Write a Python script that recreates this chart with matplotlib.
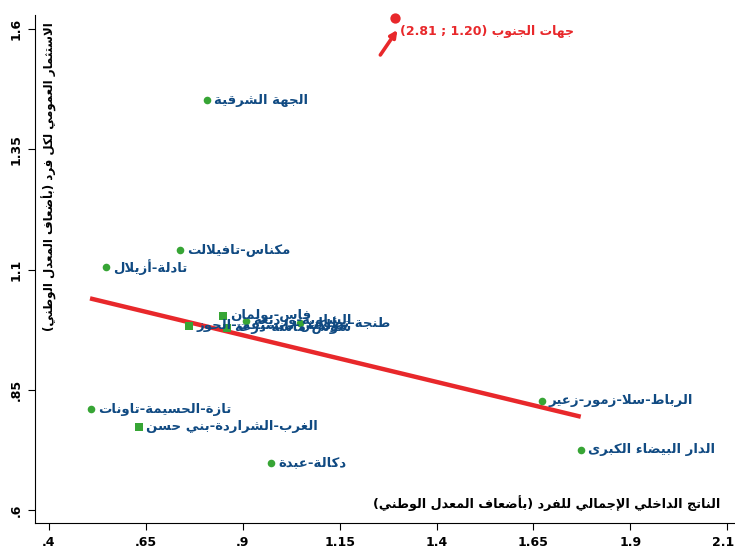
#!/usr/bin/env python3

# Scatter of regional indicators vs GDP per capita (multiples of the national mean),
# with Arabic labels shaped by hand (matplotlib does no Arabic shaping itself).

import matplotlib
matplotlib.use('Agg')
import matplotlib.pyplot as plt

# Data.
regions = [
    'الجهة الشرقية', 'مكناس-تافيلالت', 'تادلة-أزيلال', 'فاس-بولمان',
    'الشاوية-ورديغة', 'مراكش-تانسيفت-الحوز', 'سوس-ماسة-درعة', 'طنجة-تطوان',
    'تازة-الحسيمة-تاونات', 'الغرب-الشراردة-بني حسن', 'دكالة-عبدة',
    'الرباط-سلا-زمور-زعير', 'الدار البيضاء الكبرى',
]
gdp_pc = [0.808, 0.738, 0.547, 0.850, 0.909, 0.762, 0.860, 1.049,
          0.509, 0.633, 0.974, 1.671, 1.772]
y_val = [1.452, 1.140, 1.106, 1.004, 0.994, 0.983, 0.979, 0.988,
         0.810, 0.773, 0.698, 0.827, 0.725]

south_name = 'جهات الجنوب'
south_value = '(2.81 ; 1.20)'
south_x = 1.294    # drawn clipped at the top of the scale
south_y = 1.623

fit_x = [0.506, 1.772]
fit_y = [1.040, 0.794]

xticks = [0.4, 0.65, 0.9, 1.15, 1.4, 1.65, 1.9, 2.15]
xtick_labels = ['.4', '.65', '.9', '1.15', '1.4', '1.65', '1.9', '2.15']
yticks = [0.6, 0.85, 1.1, 1.35, 1.6]
ytick_labels = ['.6', '.85', '1.1', '1.35', '1.6']

xlabel = 'الناتج الداخلي الإجمالي للفرد (بأضعاف المعدل الوطني)'
ylabel = 'الاستثمار العمومي لكل فرد (بأضعاف المعدل الوطني)'


# --- minimal Arabic shaping: presentation forms + visual reversal ---
_letters = [('ء', 0xFE80, 1), ('آ', 0xFE81, 2), ('أ', 0xFE83, 2), ('ؤ', 0xFE85, 2),
            ('إ', 0xFE87, 2), ('ئ', 0xFE89, 4), ('ا', 0xFE8D, 2), ('ب', 0xFE8F, 4),
            ('ة', 0xFE93, 2), ('ت', 0xFE95, 4), ('ث', 0xFE99, 4), ('ج', 0xFE9D, 4),
            ('ح', 0xFEA1, 4), ('خ', 0xFEA5, 4), ('د', 0xFEA9, 2), ('ذ', 0xFEAB, 2),
            ('ر', 0xFEAD, 2), ('ز', 0xFEAF, 2), ('س', 0xFEB1, 4), ('ش', 0xFEB5, 4),
            ('ص', 0xFEB9, 4), ('ض', 0xFEBD, 4), ('ط', 0xFEC1, 4), ('ظ', 0xFEC5, 4),
            ('ع', 0xFEC9, 4), ('غ', 0xFECD, 4), ('ف', 0xFED1, 4), ('ق', 0xFED5, 4),
            ('ك', 0xFED9, 4), ('ل', 0xFEDD, 4), ('م', 0xFEE1, 4), ('ن', 0xFEE5, 4),
            ('ه', 0xFEE9, 4), ('و', 0xFEED, 2), ('ى', 0xFEEF, 2), ('ي', 0xFEF1, 4)]
FORMS = {c: (b, n) for c, b, n in _letters}
LAM_ALEF = {'آ': 0xFEF5, 'أ': 0xFEF7, 'إ': 0xFEF9, 'ا': 0xFEFB}
MIRROR = {'(': ')', ')': '('}


def ar(text):
    out = []
    i = 0
    prev_joins = False
    while i < len(text):
        c = text[i]
        if c not in FORMS:
            out.append(c)
            prev_joins = False
            i += 1
            continue
        if c == 'ل' and i + 1 < len(text) and text[i + 1] in LAM_ALEF:
            out.append(chr(LAM_ALEF[text[i + 1]] + (1 if prev_joins else 0)))
            prev_joins = False
            i += 2
            continue
        base, n = FORMS[c]
        nxt = text[i + 1] if i + 1 < len(text) else ''
        joins_next = n == 4 and nxt in FORMS and FORMS[nxt][1] > 1
        if prev_joins and joins_next:
            form = 3
        elif prev_joins:
            form = 1
        elif joins_next:
            form = 2
        else:
            form = 0
        out.append(chr(base + form))
        prev_joins = joins_next
        i += 1
    return ''.join(MIRROR.get(ch, ch) for ch in reversed(out))


def main():
    green = '#37a535'
    blue = '#104a82'
    red = '#e8282b'
    square_regions = {'فاس-بولمان', 'مراكش-تانسيفت-الحوز', 'سوس-ماسة-درعة',
                      'الغرب-الشراردة-بني حسن'}

    plt.rcParams['font.family'] = ['DejaVu Sans']
    fig = plt.figure(figsize=(7.35, 5.57), dpi=100)
    ax = fig.add_axes([0.0476, 0.061, 0.9524, 0.912])

    ax.plot(fit_x, fit_y, color=red, linewidth=3.2, zorder=2, solid_capstyle='butt')

    for name, x, y in zip(regions, gdp_pc, y_val):
        mk = 's' if name in square_regions else 'o'
        ax.scatter([x], [y], s=30, marker=mk, color=green, zorder=3, linewidths=0)
        ax.annotate(ar(name), (x, y), xytext=(5, 0), textcoords='offset points',
                    ha='left', va='center', fontsize=9.5, fontweight='bold',
                    color=blue, zorder=4)

    # Southern regions: off the scale, drawn at the top with their real values.
    ax.scatter([south_x], [south_y], s=55, color=red, zorder=3, linewidths=0,
               clip_on=False)
    ax.annotate('', xy=(1.299, 1.598), xytext=(1.255, 1.546), textcoords='data',
                arrowprops=dict(arrowstyle='-|>', color=red, lw=2.6,
                                mutation_scale=10, shrinkA=0, shrinkB=0))
    ax.text(1.306, 1.594, south_value + ' ' + ar(south_name), fontsize=9,
            fontweight='bold', color=red, ha='left', va='center')

    ax.set_xlim(0.364, 2.17)
    ax.set_ylim(0.573, 1.629)
    ax.set_xticks(xticks)
    ax.set_xticklabels(xtick_labels, fontsize=9, fontweight='bold')
    ax.set_yticks(yticks)
    ax.set_yticklabels(ytick_labels, fontsize=9, fontweight='bold',
                       rotation=90, va='center')
    ax.tick_params(length=5, width=0.8, pad=4)
    ax.spines['top'].set_visible(False)
    ax.spines['right'].set_visible(False)
    ax.spines['left'].set_linewidth(0.8)
    ax.spines['bottom'].set_linewidth(0.8)
    ax.spines['bottom'].set_bounds(0.364, 2.17)

    ax.text(0.021, 0.985, ar(ylabel), transform=ax.transAxes, rotation=90,
            ha='center', va='top', fontsize=8.5, fontweight='bold')
    ax.text(0.979, 0.039, ar(xlabel), transform=ax.transAxes,
            ha='right', va='center', fontsize=9.2, fontweight='bold')

    fig.savefig('out.png', dpi=100, facecolor='white')


if __name__ == '__main__':
    main()
